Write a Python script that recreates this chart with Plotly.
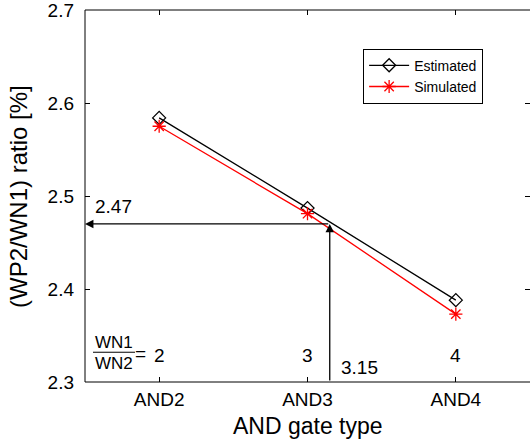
import plotly.graph_objects as go

gates = ["AND2", "AND3", "AND4"]
x_pos = [2, 3, 4]
estimated = [2.584, 2.487, 2.388]
simulated = [2.575, 2.481, 2.373]
ratio_labels = ["2", "3", "4"]
y_ticks = [2.3, 2.4, 2.5, 2.6, 2.7]
cross_x = 3.15
cross_y = 2.47

FONT = "Liberation Sans, Arial, sans-serif"

fig = go.Figure()
fig.add_trace(go.Scatter(x=x_pos, y=estimated, mode="lines+markers", name="Estimated",
                         line=dict(color="black", width=1.3),
                         marker=dict(symbol="diamond-open", size=10, color="black", line=dict(width=1.3))))
fig.add_trace(go.Scatter(x=x_pos, y=simulated, mode="lines+markers", name="Simulated",
                         line=dict(color="red", width=1.3),
                         marker=dict(symbol="asterisk-open", size=11, color="red", line=dict(width=1.3, color="red"))))

def txt(x, y, s, size=19, xanchor="center", xref="x", yref="y", **kw):
    return dict(x=x, y=y, xref=xref, yref=yref, text=s, showarrow=False, xanchor=xanchor,
                yanchor="middle", font=dict(size=size, color="black", family=FONT), **kw)

ann = []
ann.append(dict(x=1.5, y=cross_y, ax=cross_x, ay=cross_y, xref="x", yref="y", axref="x", ayref="y",
                showarrow=True, arrowhead=2, arrowsize=1.3, arrowwidth=1.3, arrowcolor="black", text=""))
ann.append(dict(x=cross_x, y=cross_y, ax=cross_x, ay=2.3, xref="x", yref="y", axref="x", ayref="y",
                showarrow=True, arrowhead=2, arrowsize=1.3, arrowwidth=1.3, arrowcolor="black", text=""))
ann.append(txt(1.552, 2.489, "2.47", xanchor="left"))
ann.append(txt(3.212, 2.316, f"{cross_x}", xanchor="left"))
for xv, lab in zip(x_pos, ratio_labels):
    ann.append(txt(xv, 2.329, lab))
ann.append(txt(1.874, 2.331, "=", size=19))
ann.append(txt(1.696, 2.343, "WN1", size=17))
ann.append(txt(1.696, 2.320, "WN2", size=17))
# axis titles
ann.append(txt(0.5, -0.118, "AND gate type", size=23, xref="paper", yref="paper"))
ann.append(dict(x=-0.1506, y=0.5, xref="paper", yref="paper", text="(WP2/WN1) ratio [%]", showarrow=False,
                xanchor="center", yanchor="middle", textangle=-90,
                font=dict(size=24, color="black", family=FONT)))

shapes = [
    dict(type="line", xref="x", yref="y", x0=1.554, x1=1.837, y0=2.332, y1=2.332, line=dict(color="black", width=1)),
    dict(type="line", xref="paper", yref="paper", x0=0, x1=0, y0=0, y1=1, line=dict(color="black", width=1)),
    dict(type="line", xref="paper", yref="paper", x0=0, x1=1, y0=0, y1=0, line=dict(color="black", width=1)),
    dict(type="line", xref="paper", yref="paper", x0=0, x1=1, y0=1, y1=1, line=dict(color="black", width=1)),
]

fig.update_layout(
    width=530, height=442,
    margin=dict(l=85, r=0, t=10, b=60, autoexpand=False),
    paper_bgcolor="white", plot_bgcolor="white",
    font=dict(family=FONT, size=19, color="black"),
    showlegend=True,
    legend=dict(x=0.625, y=0.896, xanchor="left", yanchor="top",
                bgcolor="white", bordercolor="black", borderwidth=1,
                font=dict(size=14, family=FONT), tracegroupgap=0, itemwidth=40),
    annotations=ann,
    shapes=shapes,
)
fig.update_xaxes(range=[1.5, 4.5], tickvals=x_pos, ticktext=gates, ticks="inside", ticklen=5,
                 tickcolor="black", mirror="allticks", showline=False, showgrid=False, zeroline=False,
                 automargin=False, ticklabelstandoff=4, tickfont=dict(size=19),
                 ticklabeloverflow="allow")
fig.update_yaxes(range=[2.3, 2.7], tickvals=y_ticks, ticktext=[f"{v:.1f}" for v in y_ticks],
                 ticks="inside", ticklen=5, tickcolor="black", mirror="allticks", showline=False,
                 showgrid=False, zeroline=False, automargin=False, ticklabelstandoff=10,
                 tickfont=dict(size=19), ticklabeloverflow="allow")

fig.write_html("out.html", config={"displayModeBar": False},
               post_script="document.body.style.margin='0';document.body.style.overflow='hidden';")
